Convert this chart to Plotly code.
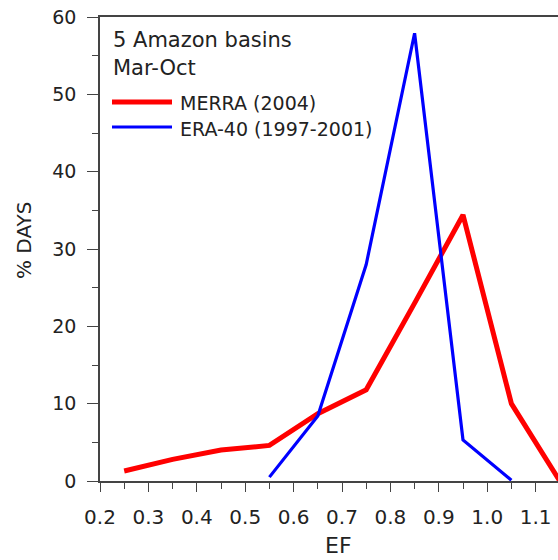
import plotly.graph_objects as go

# Data
ef_merra = [0.25, 0.35, 0.45, 0.55, 0.65, 0.75, 0.85, 0.95, 1.05, 1.15]
days_merra = [1.3, 2.8, 4.0, 4.6, 8.7, 11.8, 23.0, 34.4, 10.0, 0.0]

ef_era = [0.55, 0.65, 0.75, 0.85, 0.95, 1.05]
days_era = [0.5, 8.4, 28.0, 57.9, 5.3, 0.1]

x_ticks = [0.2, 0.3, 0.4, 0.5, 0.6, 0.7, 0.8, 0.9, 1.0, 1.1]
x_tick_labels = ["0.2", "0.3", "0.4", "0.5", "0.6", "0.7", "0.8", "0.9", "1.0", "1.1"]
y_ticks = [0, 10, 20, 30, 40, 50, 60]

name_merra = "MERRA (2004)"
name_era = "ERA-40 (1997-2001)"
box_title = ["5 Amazon basins", "Mar-Oct"]
x_title = "EF"
y_title = "% DAYS"

FONT = "DejaVu Sans"
TXT = "#222222"
AX = "#444444"

W, H = 558, 560
L, R, T, B = 100, 0, 17, 79
pw, ph = W - L - R, H - T - B


def px(xp):
    return (xp - L) / pw


def py(yp):
    return (H - B - yp) / ph


fig = go.Figure()
fig.add_trace(go.Scatter(x=ef_merra, y=days_merra, mode="lines", name=name_merra,
                         line=dict(color="#ff0000", width=5), showlegend=False))
fig.add_trace(go.Scatter(x=ef_era, y=days_era, mode="lines", name=name_era,
                         line=dict(color="#0000ff", width=3.2), showlegend=False))

x_max = 0.2 + pw / 484.0

fig.update_xaxes(range=[0.2, x_max], tickvals=x_ticks, ticktext=x_tick_labels,
                 automargin=False, ticklabeloverflow="allow",
                 showline=True, linecolor=AX, linewidth=1.5, mirror=True,
                 ticks="outside", ticklen=9, tickwidth=1.2, tickcolor=AX,
                 minor=dict(dtick=0.05, ticks="outside", ticklen=6, tickcolor=AX, tickwidth=1.2),
                 showgrid=False, zeroline=False,
                 tickfont=dict(family=FONT, size=20, color=TXT),
                 ticklabelstandoff=8)
fig.update_yaxes(range=[0, 60], tickvals=y_ticks,
                 automargin=False, ticklabeloverflow="allow",
                 showline=True, linecolor=AX, linewidth=1.5, mirror=False,
                 ticks="outside", ticklen=11, tickwidth=1.2, tickcolor=AX,
                 minor=dict(dtick=5, ticks="outside", ticklen=6, tickcolor=AX, tickwidth=1.2),
                 showgrid=False, zeroline=False,
                 tickfont=dict(family=FONT, size=19, color=TXT),
                 ticklabelstandoff=7)

# axis titles (placed as in the reference, slightly off-centre)
fig.add_annotation(xref="paper", yref="paper", x=px(338), y=py(545), text=x_title,
                   showarrow=False, xanchor="center", yanchor="middle",
                   font=dict(family=FONT, size=22, color=TXT))
fig.add_annotation(xref="paper", yref="paper", x=px(24), y=py(241), text=y_title,
                   showarrow=False, xanchor="center", yanchor="middle", textangle=-90,
                   font=dict(family=FONT, size=20, color=TXT))

# Legend-like text block
fig.add_annotation(xref="paper", yref="paper", x=px(111), y=py(40), text=box_title[0],
                   showarrow=False, xanchor="left", yanchor="middle",
                   font=dict(family=FONT, size=21, color=TXT))
fig.add_annotation(xref="paper", yref="paper", x=px(111), y=py(67.5), text=box_title[1],
                   showarrow=False, xanchor="left", yanchor="middle",
                   font=dict(family=FONT, size=21, color=TXT))
fig.add_shape(type="line", xref="paper", yref="paper", x0=px(112), x1=px(172), y0=py(102), y1=py(102),
              line=dict(color="#ff0000", width=5))
fig.add_shape(type="line", xref="paper", yref="paper", x0=px(112), x1=px(172), y0=py(127), y1=py(127),
              line=dict(color="#0000ff", width=3.2))
fig.add_annotation(xref="paper", yref="paper", x=px(178), y=py(103.5), text=name_merra,
                   showarrow=False, xanchor="left", yanchor="middle",
                   font=dict(family=FONT, size=19, color=TXT))
fig.add_annotation(xref="paper", yref="paper", x=px(178), y=py(129), text=name_era,
                   showarrow=False, xanchor="left", yanchor="middle",
                   font=dict(family=FONT, size=19, color=TXT))

fig.update_layout(width=W, height=H, margin=dict(l=L, r=R, t=T, b=B, autoexpand=False),
                  paper_bgcolor="white", plot_bgcolor="white", showlegend=False)

fig.write_html("out.html", config={"displayModeBar": False},
               post_script="document.body.style.margin='0';document.body.style.overflow='hidden';")
